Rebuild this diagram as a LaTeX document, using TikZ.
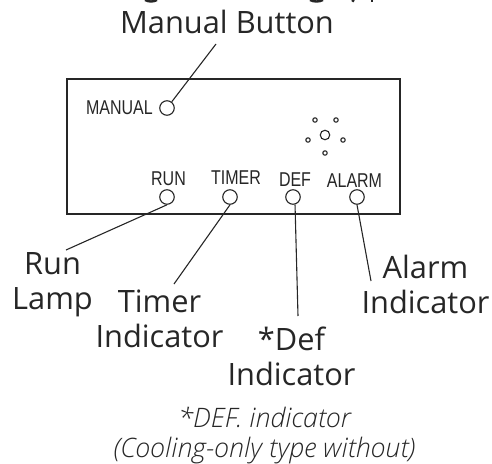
\documentclass[tikz,border=0pt]{standalone}
\usepackage{fontspec}
\setmainfont{Open Sans}
\newfontfamily\lblfont[FakeStretch=0.8]{Liberation Sans}
\newfontfamily\notefont{Open Sans Light Italic}
\colorlet{ink}{black!85}
\tikzset{
  callout/.style={font=\fontsize{30.8}{35}\selectfont, text=ink, inner sep=0pt, align=center, anchor=base},
  note/.style={font=\notefont\fontsize{26.8}{30}\selectfont, text=ink, inner sep=0pt, align=center, anchor=base},
  panel/.style={font=\lblfont\fontsize{20}{22}\selectfont, text=ink, inner sep=0pt},
  led/.style={circle, draw=ink, line width=1.1pt, inner sep=0pt, minimum size=14.5pt},
  dot/.style={circle, draw=ink, line width=1.1pt, inner sep=0pt, minimum size=4.4pt},
  lead/.style={draw=ink, line width=1.1pt},
  cut/.style={draw=ink, line width=2.4pt},
}
\begin{document}
\begin{tikzpicture}[x=1pt,y=-1pt]
\useasboundingbox (0,0) rectangle (492,463);
\clip (0,0) rectangle (492,463);
\draw[lead, line width=1.15pt] (67,79) rectangle (400,214);
\node[callout] (mb) at (227,33) {Manual Button};
\node[led] (manual) at (167,108) {};
\node[led] (run) at (167,197) {};
\node[led] (timer) at (230,197) {};
\node[led] (def) at (293,197) {};
\node[led] (alarm) at (357,197) {};
\node[led, minimum size=9.5pt] (c) at (325,135) {};
\node[dot] (d1) at (315,120) {};
\node[dot] (d2) at (336,120) {};
\node[dot] (d3) at (308,140) {};
\node[dot] (d4) at (343,140) {};
\node[dot] (d5) at (325,153) {};
\node[panel, anchor=east] (lm) at (153,108) {MANUAL};
\node[panel] (lr) at (168.5,179) {RUN};
\node[panel] (lt) at (236,178) {TIMER};
\node[panel] (ld) at (295,180) {DEF};
\node[panel] (la) at (354.5,181) {ALARM};
\coordinate (mbend) at (216,44);
\draw[lead] (mbend) -- (manual);
\node[callout] (runl) at (52.5,309) {Run\\Lamp};
\node[callout] (tl) at (159.5,347) {Timer\\Indicator};
\node[callout] (dl) at (291.5,385) {*Def\\Indicator};
\node[callout] (al) at (425.5,313) {Alarm\\Indicator};
\node[note] (n) at (264.5,457) {*DEF. indicator\\(Cooling-only type without)};
\coordinate (r1) at (66,250);
\coordinate (t1) at (174,284);
\coordinate (de1) at (298,316);
\coordinate (a1) at (371,281);
\draw[lead] (r1) -- (run.south);
\draw[lead] (t1) -- (timer.south);
\draw[lead] (de1) -- (def.-75);
\draw[lead] (a1) -- (alarm.south);
% descenders of a title cut off by the top edge
\draw[cut] (145,0) .. controls (149,2) and (153,2) .. (157,0);
\draw[cut] (310,0) .. controls (314,2) and (319,2) .. (323,0);
\draw[cut] (352,0) -- (354,1.5);
\draw[cut] (372,0) -- (372,1.5);
\end{tikzpicture}
\end{document}
